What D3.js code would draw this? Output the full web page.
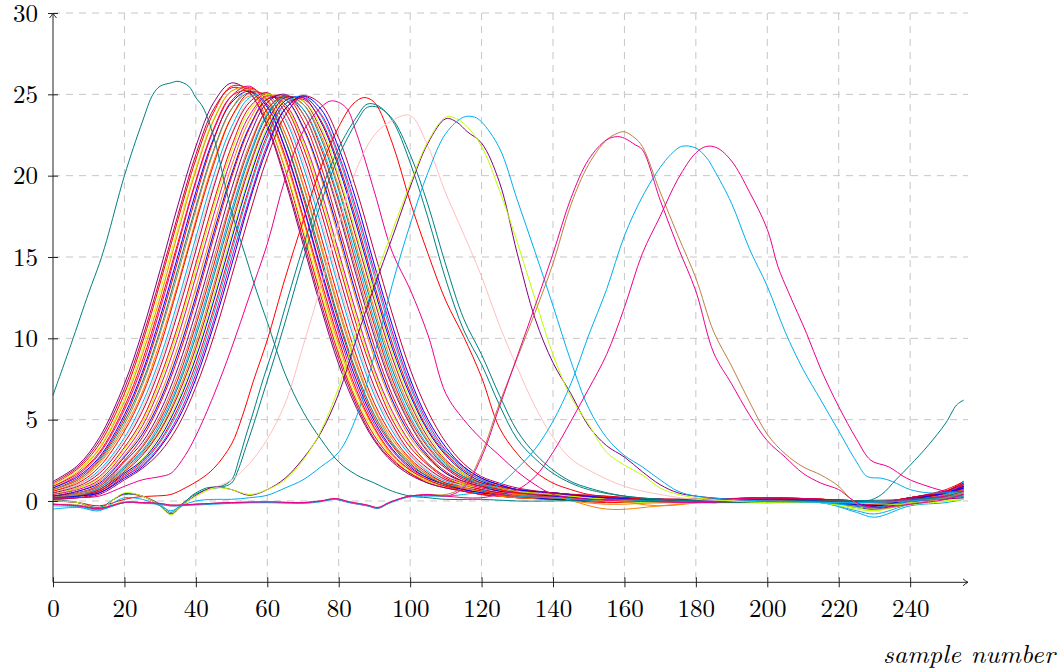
<!DOCTYPE html>
<html><head><meta charset="utf-8">
<script src="https://cdn.jsdelivr.net/npm/d3@7"></script>
<style>body{margin:0;background:#fff}svg{display:block}</style>
</head><body><svg id="c" width="1060" height="671"></svg>
<script>
const xTicks = [0,20,40,60,80,100,120,140,160,180,200,220,240];
const yTicks = [0,5,10,15,20,25,30];

// main cluster: shared sample positions
const clusterX = [0,7,13,20,25,30,35,40,45,50,55,60,65,70,75,80,85,90,95,100,105,110,115,120,125,130];
const clusterTailX = [140,155,170,185,200,215,225,230,240,250,255];
const clusterY = [
[1.2,2.2,3.9,7.2,10.4,14.2,18.2,21.8,24.5,25.7,25.1,23.0,19.7,15.8,11.9,8.4,5.7,3.7,2.4,1.6,1.1,0.8,0.6,0.4,0.3,0.2],
[1.1,2.1,3.7,6.9,10.0,13.7,17.6,21.3,24.1,25.4,25.1,23.1,19.9,16.1,12.2,8.7,5.9,3.8,2.5,1.7,1.1,0.8,0.6,0.4,0.3,0.2],
[1.0,2.0,3.5,6.6,9.7,13.4,17.3,21.0,23.9,25.5,25.3,23.4,20.4,16.5,12.6,9.0,6.1,4.0,2.6,1.7,1.2,0.9,0.6,0.4,0.3,0.2],
[1.0,1.9,3.3,6.3,9.3,12.9,16.8,20.5,23.5,25.2,25.2,23.5,20.5,16.8,12.9,9.3,6.3,4.2,2.7,1.8,1.2,0.9,0.7,0.5,0.4,0.3],
[0.9,1.8,3.2,6.1,9.0,12.5,16.5,20.3,23.4,25.2,25.4,23.8,21.0,17.3,13.3,9.6,6.6,4.4,2.8,1.9,1.3,0.9,0.7,0.5,0.3,0.2],
[0.9,1.7,3.0,5.8,8.6,12.1,15.9,19.7,22.9,24.9,25.2,23.9,21.2,17.5,13.6,9.9,6.8,4.5,2.9,1.9,1.3,0.9,0.7,0.5,0.4,0.3],
[0.8,1.6,2.9,5.6,8.3,11.8,15.7,19.6,22.8,24.9,25.5,24.3,21.6,18.1,14.1,10.3,7.1,4.7,3.1,2.0,1.4,1.0,0.7,0.5,0.4,0.3],
[0.8,1.5,2.7,5.3,7.9,11.3,15.1,19.0,22.3,24.5,25.2,24.2,21.7,18.2,14.3,10.6,7.4,4.9,3.2,2.1,1.4,1.0,0.7,0.5,0.4,0.3],
[0.7,1.4,2.6,5.1,7.7,11.0,14.8,18.7,22.2,24.6,25.4,24.6,22.2,18.7,14.8,11.0,7.7,5.1,3.4,2.2,1.5,1.0,0.8,0.6,0.4,0.3],
[0.7,1.3,2.5,4.9,7.3,10.5,14.3,18.1,21.6,24.1,25.1,24.4,22.2,18.9,15.1,11.2,7.9,5.3,3.5,2.3,1.5,1.0,0.8,0.6,0.4,0.3],
[0.7,1.3,2.4,4.7,7.1,10.3,14.0,17.9,21.5,24.1,25.3,24.7,22.6,19.4,15.6,11.7,8.3,5.6,3.6,2.4,1.6,1.1,0.8,0.6,0.4,0.3],
[0.6,1.2,2.3,4.5,6.7,9.8,13.4,17.3,20.9,23.6,24.9,24.6,22.6,19.5,15.8,11.9,8.5,5.7,3.8,2.5,1.6,1.1,0.8,0.6,0.4,0.3],
[0.6,1.1,2.1,4.3,6.5,9.5,13.2,17.1,20.7,23.6,25.1,24.9,23.1,20.0,16.3,12.4,8.9,6.0,4.0,2.6,1.7,1.1,0.9,0.6,0.4,0.3],
[0.5,1.0,1.9,3.9,6.0,8.8,12.3,16.2,20.0,23.0,24.8,25.0,23.5,20.6,17.0,13.1,9.5,6.5,4.3,2.8,1.8,1.2,0.9,0.7,0.5,0.3],
[0.5,1.0,1.8,3.8,5.7,8.5,11.9,15.8,19.5,22.6,24.6,24.9,23.6,20.9,17.3,13.4,9.8,6.7,4.5,2.9,1.9,1.3,0.9,0.7,0.5,0.4],
[0.5,0.9,1.7,3.6,5.5,8.2,11.6,15.4,19.3,22.5,24.5,25.1,23.9,21.3,17.8,13.9,10.2,7.0,4.7,3.0,2.0,1.3,1.0,0.7,0.5,0.4],
[0.4,0.8,1.5,3.3,5.0,7.6,10.8,14.6,18.4,21.8,24.2,25.0,24.2,21.8,18.4,14.6,10.8,7.6,5.0,3.3,2.2,1.4,1.0,0.7,0.5,0.4],
[0.4,0.8,1.4,3.2,4.8,7.3,10.5,14.2,18.1,21.5,24.0,25.0,24.3,22.1,18.8,15.0,11.2,7.9,5.3,3.5,2.3,1.5,1.0,0.8,0.6,0.4],
[0.4,0.7,1.3,3.0,4.6,7.0,10.1,13.8,17.6,21.1,23.7,24.9,24.4,22.3,19.1,15.3,11.5,8.1,5.5,3.6,2.3,1.5,1.1,0.8,0.6,0.4],
[0.3,0.6,1.2,2.8,4.3,6.5,9.5,13.1,16.9,20.6,23.4,24.9,24.7,22.9,19.9,16.2,12.3,8.8,6.0,3.9,2.6,1.7,1.1,0.9,0.6,0.4],
[0.3,0.6,1.1,2.7,4.1,6.2,9.1,12.6,16.5,20.1,23.0,24.7,24.7,23.0,20.1,16.5,12.6,9.1,6.2,4.1,2.7,1.7,1.2,0.9,0.6,0.5],
[0.3,0.5,1.0,2.5,3.9,6.0,8.8,12.3,16.2,19.9,22.9,24.7,24.9,23.4,20.6,16.9,13.1,9.5,6.5,4.3,2.8,1.8,1.2,0.9,0.7,0.5],
[0.3,0.5,0.9,2.4,3.6,5.5,8.2,11.6,15.4,19.2,22.4,24.5,25.0,23.8,21.2,17.7,13.8,10.1,7.0,4.7,3.0,2.0,1.3,1.0,0.7,0.5],
[0.2,0.5,0.9,2.2,3.4,5.2,7.8,11.1,14.9,18.6,21.9,24.1,24.8,23.8,21.3,17.9,14.1,10.4,7.2,4.8,3.1,2.1,1.4,1.0,0.7,0.5],
[0.2,0.4,0.8,2.1,3.3,5.0,7.5,10.8,14.5,18.4,21.7,24.1,24.9,24.1,21.7,18.4,14.5,10.8,7.5,5.0,3.3,2.1,1.4,1.0,0.7,0.5],
[0.2,0.4,0.8,2.1,3.1,4.8,7.2,10.4,14.1,17.9,21.3,23.8,24.8,24.1,21.9,18.6,14.9,11.1,7.8,5.2,3.4,2.2,1.5,1.0,0.8,0.6],
[0.2,0.4,0.7,2.0,3.0,4.6,7.0,10.1,13.8,17.6,21.1,23.7,24.9,24.4,22.3,19.1,15.3,11.5,8.1,5.5,3.6,2.3,1.5,1.1,0.8,0.6],
[0.2,0.4,0.7,1.9,2.9,4.4,6.7,9.7,13.3,17.2,20.7,23.4,24.7,24.4,22.5,19.3,15.6,11.8,8.4,5.7,3.7,2.4,1.6,1.1,0.8,0.6],
[0.1,0.3,0.7,1.8,2.8,4.3,6.5,9.4,13.0,16.9,20.5,23.3,24.8,24.6,22.8,19.8,16.1,12.3,8.8,6.0,3.9,2.5,1.7,1.1,0.9,0.6],
[0.1,0.3,0.6,1.7,2.6,4.1,6.2,9.1,12.6,16.4,20.0,23.0,24.6,24.6,23.0,20.0,16.4,12.6,9.1,6.2,4.1,2.6,1.7,1.2,0.9,0.6],
[0.1,0.3,0.6,1.7,2.5,3.9,6.0,8.8,12.3,16.1,19.8,22.8,24.6,24.8,23.3,20.5,16.9,13.0,9.4,6.5,4.3,2.8,1.8,1.2,0.9,0.7],
[0.1,0.3,0.6,1.6,2.4,3.7,5.7,8.4,11.8,15.6,19.3,22.5,24.4,24.7,23.4,20.7,17.2,13.3,9.7,6.7,4.4,2.9,1.9,1.3,0.9,0.7],
[0.1,0.3,0.5,1.5,2.3,3.6,5.5,8.1,11.5,15.3,19.1,22.3,24.4,24.9,23.7,21.1,17.6,13.8,10.1,7.0,4.6,3.0,2.0,1.3,1.0,0.7],
[0.1,0.2,0.5,1.5,2.2,3.4,5.2,7.8,11.1,14.9,18.6,21.9,24.1,24.8,23.8,21.3,17.9,14.1,10.4,7.2,4.8,3.1,2.1,1.4,1.0,0.7],
[0.2,0.3,0.5,1.4,2.1,3.3,5.0,7.5,10.8,14.5,18.4,21.7,24.1,24.9,24.1,21.7,18.4,14.5,10.8,7.5,5.0,3.3,2.1,1.4,1.0,0.7],
[0.1,0.2,0.4,1.3,2.0,3.0,4.6,7.0,10.1,13.8,17.6,21.1,23.7,24.9,24.4,22.3,19.1,15.3,11.5,8.1,5.5,3.6,2.3,1.5,1.1,0.8]
];
const clusterTail = [
[0.1,0.0,-0.1,0.0,0.1,-0.1,-0.2,-0.3,0.0,0.4,0.8],
[0.2,0.1,0.0,-0.1,0.0,0.1,-0.1,-0.2,0.1,0.5,0.9],
[0.1,-0.1,0.0,0.1,0.0,0.0,-0.3,-0.4,-0.1,0.3,0.6],
[0.2,0.0,0.1,0.0,-0.1,0.1,0.0,-0.1,0.2,0.6,1.1],
[0.1,-0.2,-0.1,0.0,0.1,-0.1,-0.2,-0.3,0.0,0.2,0.4],
[0.2,0.1,0.1,0.0,0.0,0.1,-0.1,-0.2,0.1,0.4,0.7],
[0.2,0.0,-0.1,0.1,0.2,0.0,-0.2,-0.3,0.0,0.5,1.0],
[0.1,0.0,0.1,-0.1,0.0,0.0,-0.4,-0.5,-0.1,0.3,0.5],
[0.3,0.1,0.0,0.0,0.1,0.1,0.0,-0.1,0.2,0.6,1.2],
[0.2,0.0,0.1,0.1,0.0,-0.1,-0.3,-0.4,0.0,0.3,0.6],
[0.3,0.1,0.0,-0.1,0.1,0.0,-0.2,-0.2,0.1,0.4,0.8],
[0.2,0.1,-0.1,0.0,0.0,0.1,-0.1,-0.2,0.1,0.5,0.9],
[0.3,0.0,0.0,0.1,0.2,0.1,0.0,-0.1,0.2,0.6,1.0],
[0.2,0.0,-0.1,-0.1,0.0,-0.1,-0.6,-0.8,-0.2,0.2,0.4],
[0.3,0.1,0.1,0.0,0.1,0.0,-0.1,-0.2,0.0,0.3,0.5],
[0.3,0.1,0.0,0.1,0.0,0.0,-0.2,-0.3,0.1,0.5,0.9],
[0.3,0.2,0.1,0.0,0.1,0.1,0.0,-0.1,0.2,0.7,1.2],
[0.3,0.0,-0.1,0.0,0.0,-0.1,-0.4,-0.6,-0.1,0.0,0.2],
[0.3,0.1,0.1,0.1,0.2,0.1,-0.1,-0.2,0.1,0.5,0.8],
[0.3,-0.5,-0.3,0.0,0.1,0.0,-0.2,-0.3,0.0,0.3,0.6],
[0.3,0.1,0.0,-0.1,0.0,0.0,-0.3,-0.4,0.0,0.4,0.7],
[0.4,0.2,0.1,0.1,0.1,0.1,0.0,-0.1,0.2,0.6,1.0],
[0.4,0.1,0.0,0.0,0.1,0.0,-0.2,-0.3,0.1,0.4,0.8],
[0.4,0.2,0.1,0.0,0.0,0.1,-0.1,-0.2,0.1,0.3,0.5],
[0.4,0.2,0.1,0.1,0.1,0.0,-0.1,-0.2,0.1,0.5,0.9],
[0.4,0.1,0.0,-0.1,-0.1,-0.1,-0.7,-1.0,-0.3,-0.1,0.1],
[0.4,0.2,0.0,0.0,0.1,0.0,-0.2,-0.3,0.0,0.3,0.6],
[0.4,0.1,-0.3,0.0,0.1,0.0,-0.1,-0.2,0.1,0.4,0.7],
[0.4,0.2,0.1,0.1,0.2,0.1,0.0,-0.1,0.2,0.6,1.1],
[0.4,0.1,-0.1,-0.1,0.0,-0.1,-0.5,-0.6,-0.2,0.0,0.1],
[0.5,0.2,0.1,0.0,0.1,0.0,-0.2,-0.3,0.1,0.5,0.8],
[0.5,0.2,0.1,0.1,0.1,0.1,-0.1,-0.2,0.1,0.5,1.0],
[0.5,0.2,0.0,0.0,0.0,-0.1,-0.3,-0.4,0.0,0.4,1.2],
[0.5,0.2,0.1,0.1,0.2,0.1,-0.1,-0.2,0.2,0.6,1.0],
[0.5,0.2,0.1,0.0,0.1,0.0,-0.2,-0.3,0.1,0.5,0.9],
[0.5,0.3,0.1,0.1,0.1,0.1,-0.1,-0.2,0.2,0.6,1.1]
];
const clusterColors = ["#800080","#bf0040","#ff0000","#bfff00","#ff8000","#ff0000","#ec008c","#0000ff","#ff0000","#008080","#bf8040","#ff8000",
"#ff0000","#00aeef","#ffbfbf","#bf0040","#ff0000","#bfff00","#ec008c","#ff8000","#0000ff","#ff0000","#800080","#bf8040",
"#ff0000","#00aeef","#008080","#ff8000","#bf0040","#bfff00","#0000ff","#ff0000","#00aeef","#ec008c","#0000ff","#bf0040"];

// individual traces
const tealEarlyX = [0,5,10,13,15,20,25,28,30,33,35,38,40,42,45,48,50,54,57,60,65,70,75,80,85,90,95,100,105,110,120,130,140,160,180,200,220,228,232,236,240,245,250,253,255];
const tealEarlyY = [6.5,9.6,12.8,14.6,16.0,20.0,23.3,25.0,25.5,25.7,25.8,25.5,24.8,24.2,22.4,19.6,17.8,15.0,12.9,11.0,7.8,5.5,3.8,2.4,1.6,1.1,0.6,0.3,0.2,0.1,0.1,0.0,0.0,0.1,-0.1,0.0,0.0,0.0,0.4,1.3,2.2,3.4,4.8,5.9,6.2];
const magAX = [0,7,13,20,25,30,33,37,40,45,50,55,60,65,70,75,78,82,85,90,95,100,105,110,115,120,125,130,135,140,145,150,160,180,200,220,240,255];
const magAY = [0.2,0.2,0.3,0.9,1.3,1.5,1.7,2.8,4.0,6.5,9.4,12.6,15.8,19.8,22.7,24.2,24.6,24.2,22.6,19.0,15.3,13.0,10.2,6.6,5.0,3.8,2.8,1.8,1.0,0.4,0.2,0.1,0.0,-0.1,0.0,-0.1,0.1,0.4];
const redX = [0,7,13,20,24,28,33,37,41,45,50,53,56,60,65,70,75,80,84,87,90,95,100,105,110,115,120,125,130,135,140,145,150,160,180,200,220,240,255];
const redY = [0.0,-0.1,-0.3,0.1,0.25,0.3,0.4,0.8,1.3,2.0,3.5,5.2,7.3,9.9,13.7,17.2,20.5,23.0,24.4,24.8,24.5,22.0,18.4,15.2,12.3,10.1,7.6,4.5,2.9,1.8,1.1,0.7,0.4,0.2,0.0,-0.1,0.0,0.0,0.3];
const tealPairX = [0,7,13,17,20,25,30,33,36,39,43,47,50,52,54,56,59,62,65,70,75,80,85,88,91,95,100,105,110,115,120,125,130,135,140,145,150,160,180,200,220,240,255];
const tealAY = [0.0,-0.1,-0.5,0.1,0.45,0.3,-0.3,-0.8,-0.3,0.35,0.8,0.9,1.3,2.5,4.0,5.4,7.6,9.6,11.9,15.6,19.0,21.7,23.6,24.4,24.3,23.4,20.8,17.4,13.6,10.5,8.4,5.9,3.8,2.6,1.7,1.1,0.7,0.3,0.0,0.0,-0.1,0.0,0.2];
const tealBY = [0.1,-0.1,-0.4,0.1,0.4,0.3,-0.2,-0.7,-0.2,0.3,0.7,0.85,1.1,2.0,3.3,4.6,6.7,8.8,11.0,14.8,18.3,21.2,23.3,24.2,24.2,23.5,21.3,18.2,14.5,11.2,9.0,6.5,4.3,2.9,1.9,1.2,0.8,0.3,0.0,-0.1,0.0,0.1,0.3];
const pinkX = [0,7,13,17,20,25,30,33,36,40,45,50,55,60,65,70,75,80,85,90,95,100,105,110,115,120,125,130,135,140,145,150,160,170,180,200,220,240,255];
const pinkY = [0.0,-0.1,-0.5,0.1,0.45,0.3,-0.3,-0.8,-0.3,0.3,0.8,1.3,2.3,3.8,6.0,9.5,13.2,17.0,20.4,22.5,23.4,23.7,21.8,18.9,16.4,13.8,10.8,8.2,5.8,3.9,2.6,1.9,0.9,0.4,0.1,0.0,-0.1,0.0,0.2];
const violetX = [0,7,13,17,20,25,30,33,36,40,45,50,55,60,65,70,75,80,85,90,95,100,105,110,113,116,120,125,130,135,140,145,150,155,160,165,170,175,180,190,200,220,240,255];
const violetY = [0.0,-0.1,-0.5,0.1,0.45,0.3,-0.3,-0.8,-0.3,0.35,0.85,0.7,0.35,0.7,1.4,2.6,4.2,6.6,10.0,13.2,16.2,19.3,22.0,23.5,23.3,22.7,22.0,19.6,15.2,11.2,8.5,6.6,4.6,3.4,2.7,1.8,1.0,0.5,0.3,0.1,0.0,-0.1,0.0,0.2];
const limeY = [0.0,-0.1,-0.5,0.1,0.5,0.3,-0.3,-0.85,-0.3,0.3,0.8,0.7,0.4,0.7,1.3,2.5,4.3,7.0,10.5,13.6,16.6,19.5,22.1,23.6,23.5,23.0,21.8,19.1,15.9,12.4,9.0,6.4,4.7,3.0,2.2,1.6,0.8,0.4,0.2,0.0,-0.1,-0.1,-0.2,0.1];
const cyanAX = [0,7,13,17,20,25,30,33,36,40,45,50,55,60,65,70,75,80,85,90,95,100,105,110,115,118,120,125,130,135,140,145,150,155,160,165,170,175,180,190,200,220,240,255];
const cyanAY = [-0.5,-0.4,-0.6,-0.1,0.2,0.1,-0.3,-0.6,-0.3,0.0,0.1,0.1,0.2,0.35,0.8,1.3,2.1,3.0,5.2,9.0,13.3,17.0,20.2,22.6,23.6,23.6,23.3,21.7,18.5,15.3,12.0,8.6,5.7,3.9,2.8,2.1,1.3,0.6,0.3,0.1,0.0,-0.1,0.0,0.3];
const brownX = [0,7,13,20,25,30,33,40,50,60,70,75,79,83,88,91,94,98,100,105,110,115,120,125,130,135,140,145,150,155,158,160,163,165,170,175,180,185,190,195,200,205,210,215,220,223,226,230,240,250,255];
const brownY = [-0.2,-0.25,-0.45,-0.05,-0.1,-0.15,-0.25,-0.2,-0.1,-0.05,-0.1,0.0,0.15,-0.05,-0.25,-0.4,-0.1,0.2,0.3,0.4,0.4,0.9,2.9,6.0,8.8,11.6,14.6,18.2,20.7,22.2,22.6,22.7,22.3,21.8,19.0,16.3,13.7,10.4,8.3,6.1,4.1,2.9,2.1,1.6,0.9,0.2,-0.3,-0.5,-0.2,0.2,0.5];
const magBY = [-0.2,-0.3,-0.5,-0.1,-0.1,-0.2,-0.3,-0.2,-0.1,-0.1,-0.1,0.0,0.1,-0.1,-0.3,-0.45,-0.15,0.2,0.3,0.4,0.3,0.8,2.7,5.8,8.9,12.0,15.2,18.6,21.0,22.2,22.4,22.3,21.9,21.6,18.5,15.6,12.9,9.1,7.2,5.3,3.7,2.7,1.7,1.1,0.7,0.2,-0.2,-0.4,-0.2,0.1,0.4];
const cyanBX = [0,7,13,20,25,30,33,40,50,60,70,75,79,83,88,91,94,98,100,105,110,115,120,125,130,135,140,145,150,155,160,165,170,173,176,180,183,185,190,195,200,205,210,215,220,225,228,232,235,240,245,250,255];
const cyanBY = [-0.3,-0.35,-0.55,-0.1,-0.15,-0.2,-0.3,-0.25,-0.15,-0.1,-0.15,-0.05,0.1,-0.1,-0.3,-0.45,-0.15,0.15,0.25,0.3,0.3,0.4,0.6,1.0,2.0,3.2,4.9,7.2,10.2,13.0,16.3,18.7,20.5,21.3,21.8,21.7,21.1,20.4,18.3,15.5,13.2,10.4,8.1,6.2,4.3,2.4,1.5,1.4,1.2,0.7,0.5,0.5,0.6];
const magCX = [0,7,13,20,25,30,33,40,50,60,70,75,79,83,88,91,94,98,100,105,110,115,120,125,130,135,140,145,150,155,160,165,170,175,180,183,186,190,195,200,203,206,211,215,220,225,229,234,239,245,250,255];
const magCY = [-0.2,-0.3,-0.45,-0.1,-0.1,-0.15,-0.25,-0.2,-0.1,-0.05,-0.1,0.0,0.15,-0.05,-0.25,-0.4,-0.1,0.2,0.3,0.35,0.3,0.2,0.2,0.4,0.7,1.5,3.0,4.9,6.9,9.0,11.9,15.2,17.5,19.8,21.4,21.8,21.7,20.9,19.0,16.7,14.4,12.8,10.3,8.1,5.8,3.8,2.5,2.1,1.4,0.9,0.6,0.6];

const traces = [
  {xs: tealEarlyX, ys: tealEarlyY, color: "#008080"},
  {xs: magAX, ys: magAY, color: "#ec008c"},
  {xs: redX, ys: redY, color: "#ff0000"},
  {xs: tealPairX, ys: tealAY, color: "#008080"},
  {xs: tealPairX, ys: tealBY, color: "#008080"},
  {xs: pinkX, ys: pinkY, color: "#ffbfbf"},
  {xs: violetX, ys: violetY, color: "#800080"},
  {xs: violetX, ys: limeY, color: "#bfff00"},
  {xs: cyanAX, ys: cyanAY, color: "#00aeef"},
  {xs: brownX, ys: brownY, color: "#bf8040"},
  {xs: brownX, ys: magBY, color: "#ec008c"},
  {xs: cyanBX, ys: cyanBY, color: "#00aeef"},
  {xs: magCX, ys: magCY, color: "#ec008c"}
];

const svg = d3.select('#c');
const X_MAX = 256.2;
const x = d3.scaleLinear().domain([0, X_MAX]).range([53, 968]);
const y = d3.scaleLinear().domain([-5, 30]).range([582.3, 13]);
const FONT = "'Latin Modern Roman','CMU Serif','Liberation Serif','Times New Roman',serif";

// grid
const gridV = svg.append('g');
gridV.selectAll('line').data(xTicks.filter(d => d > 0)).join('line')
  .attr('x1', d => x(d)).attr('x2', d => x(d))
  .attr('y1', y(30)).attr('y2', y(-5))
  .attr('stroke', '#c6c6c6').attr('stroke-width', 1).attr('stroke-dasharray', '7,6');
const gridH = svg.append('g');
gridH.selectAll('line').data(yTicks).join('line')
  .attr('x1', x(0)).attr('x2', x(X_MAX))
  .attr('y1', d => y(d)).attr('y2', d => y(d))
  .attr('stroke', '#c6c6c6').attr('stroke-width', 1).attr('stroke-dasharray', '7,6');

const line = d3.line().x(d => x(d[0])).y(d => y(d[1])).curve(d3.curveCatmullRom.alpha(0.5));
const plot = svg.append('g').attr('fill', 'none').attr('stroke-width', 1);

const clusterData = clusterY.map((ys, i) => {
  const head = clusterX.map((xv, j) => [xv, ys[j]]);
  const tail = clusterTailX.map((xv, j) => [xv, clusterTail[i][j]]);
  return {pts: head.concat(tail).filter(p => p[1] !== undefined), color: clusterColors[i]};
});
plot.selectAll('path.cl').data(clusterData).join('path').attr('class', 'cl')
  .attr('d', d => line(d.pts)).attr('stroke', d => d.color);

const traceData = traces.map(t => ({pts: t.xs.map((xv, j) => [xv, t.ys[j]]).filter(p => p[1] !== undefined), color: t.color}));
plot.selectAll('path.tr').data(traceData).join('path').attr('class', 'tr')
  .attr('d', d => line(d.pts)).attr('stroke', d => d.color);

// axes
const axX = svg.append('g').attr('transform', `translate(0,${y(-5)})`)
  .call(d3.axisBottom(x).tickValues(xTicks).tickSize(5).tickFormat(d3.format('d')));
axX.select('.domain').remove();
axX.selectAll('.tick line').attr('y1', -5).attr('y2', 5).attr('stroke', '#222');
axX.selectAll('.tick text').attr('y', 35).attr('dy', 0).attr('font-family', FONT).attr('font-size', 25).attr('fill', '#000');

const axY = svg.append('g').attr('transform', `translate(${x(0)},0)`)
  .call(d3.axisLeft(y).tickValues(yTicks).tickSize(5).tickFormat(d3.format('d')));
axY.select('.domain').remove();
axY.selectAll('.tick line').attr('x1', -5).attr('x2', 5).attr('stroke', '#222');
axY.selectAll('.tick text').attr('x', -15).attr('dy', '0.33em').attr('font-family', FONT).attr('font-size', 25).attr('fill', '#000');

const axisCol = '#222';
const x0 = x(0), xe = x(X_MAX), yb = y(-5), yt = y(30);
svg.append('line').attr('x1', x0).attr('x2', xe).attr('y1', yb).attr('y2', yb).attr('stroke', axisCol).attr('stroke-width', 1);
svg.append('line').attr('x1', x0).attr('x2', x0).attr('y1', yb).attr('y2', yt).attr('stroke', axisCol).attr('stroke-width', 1);
svg.append('path').attr('d', `M${xe-5},${yb-3.5} Q${xe-2},${yb-0.8} ${xe},${yb} Q${xe-2},${yb+0.8} ${xe-5},${yb+3.5}`)
  .attr('fill', 'none').attr('stroke', axisCol).attr('stroke-width', 1);
svg.append('path').attr('d', `M${x0-3.5},${yt+5} Q${x0-0.8},${yt+2} ${x0},${yt} Q${x0+0.8},${yt+2} ${x0+3.5},${yt+5}`)
  .attr('fill', 'none').attr('stroke', axisCol).attr('stroke-width', 1);

svg.append('text').attr('x', 1055).attr('y', 663).attr('text-anchor', 'end')
  .attr('font-family', FONT).attr('font-style', 'italic').attr('font-size', 26)
  .attr('textLength', 172).attr('lengthAdjust', 'spacing')
  .text('sample number');
</script>
</body></html>
